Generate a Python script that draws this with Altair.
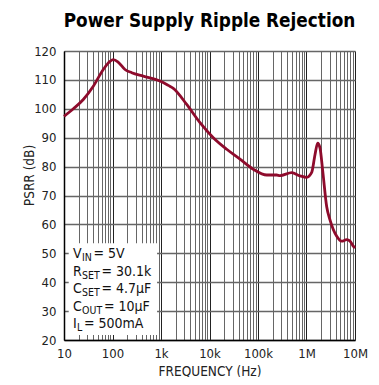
import altair as alt
import pandas as pd

# ---- data ----
title_text = ["Power Supply Ripple Rejection"]

freq_hz = [10, 15.6, 25.0, 40.2, 64.6, 88.7, 104, 132, 181, 249, 431, 952, 1413, 1795,
           3388, 6368, 11970, 22650, 42560, 80000, 151000, 242700, 284400, 495000,
           734500, 1010000, 1280000, 1500000, 1700000, 1900000, 2160000, 2610000,
           3050000, 4200000, 5320000, 6750000, 7890000, 9230000, 10000000]
psrr_db = [97.4, 100.0, 103.2, 107.8, 113.6, 116.4, 117.0, 116.1, 113.6, 112.5, 111.3,
           109.6, 108.1, 107.1, 101.5, 95.2, 90.0, 86.0, 82.6, 79.1, 77.1, 77.1, 76.9,
           77.9, 76.8, 76.3, 78.0, 84.2, 88.1, 86.4, 78.5, 66.1, 61.6, 55.9, 54.2, 54.7,
           54.2, 52.5, 51.8]

x_major = [10, 100, 1000, 10000, 100000, 1000000, 10000000]
x_major_labels = ["10", "100", "1k", "10k", "100k", "1M", "10M"]
y_ticks = [20, 30, 40, 50, 60, 70, 80, 90, 100, 110, 120]

note_main = ["V", "R", "C", "C", "I"]
note_sub = ["IN", "SET", "SET", "OUT", "L"]
note_rest = [" = 5V", " = 30.1k", " = 4.7µF", " = 10µF", " = 500mA"]
note_db = [49.8, 43.7, 37.5, 31.4, 25.6]

FONT = "'DejaVu Sans Condensed', 'Liberation Sans', sans-serif"
MAIN_SIZE = 14
SUB_SIZE = 10.5
W_PLOT, H_PLOT = 291, 289

# all log grid values (1..9 per decade)
x_grid = []
for d in x_major[:-1]:
    for m in range(1, 10):
        x_grid.append(d * m)
x_grid.append(x_major[-1])

label_expr = " : ".join(
    f"datum.value == {v} ? '{l}'" for v, l in zip(x_major, x_major_labels)
) + " : ''"
decade_test = "indexof([" + ",".join(str(v) for v in x_major) + "], datum.value) >= 0"

# DejaVu Sans advance widths (per 1000 em); condensed face is ~0.9 of these
W = {" ": 318, "=": 838, ".": 318, "k": 579, "m": 974, "µ": 636, "A": 684, "F": 575,
     "V": 684, "R": 695, "C": 698, "I": 295, "N": 748, "S": 635, "E": 632, "T": 611,
     "O": 787, "U": 732, "L": 557}
for c in "0123456789":
    W[c] = 636


def tw(s, size):
    return sum(W.get(c, 600) for c in s) * size / 1000 * 0.9


curve = pd.DataFrame({"f": freq_hz, "db": psrr_db})

note_x = 15.3
main_rows, sub_rows = [], []
for m, s, r, y in zip(note_main, note_sub, note_rest, note_db):
    w1 = tw(m, MAIN_SIZE)
    w2 = tw(s, SUB_SIZE)
    main_rows.append({"f": note_x, "db": y, "t": m, "xo": 0.0})
    sub_rows.append({"f": note_x, "db": y, "t": s, "xo": w1 + 0.3})
    main_rows.append({"f": note_x, "db": y, "t": r, "xo": w1 + w2 + 2.0})
main_df = pd.DataFrame(main_rows)
sub_df = pd.DataFrame(sub_rows)

box_df = pd.DataFrame({"f": [12.5], "f2": [830], "db": [21.7], "db2": [53.5]})
title_df = pd.DataFrame({"t": title_text})

xscale = alt.Scale(type="log", domain=[10, 10000000], nice=False)
yscale = alt.Scale(domain=[20, 120], nice=False)

x_axis = alt.Axis(
    values=x_grid, labelExpr=label_expr, grid=True, ticks=False,
    gridColor={"condition": {"test": decade_test, "value": "#222"}, "value": "#666"},
    gridWidth=1, labelFont=FONT, labelFontSize=13, labelColor="#222",
    labelPadding=7, labelFlush=False, labelOverlap=False,
    title="FREQUENCY (Hz)", titleFont=FONT, titleFontSize=13.5, titleFontWeight="normal",
    titleColor="#222", titleY=35, titleBaseline="alphabetic",
    domainColor="#000", domainWidth=1.5,
)
y_axis = alt.Axis(
    values=y_ticks, grid=True, ticks=False, gridColor="#666", gridWidth=1.5,
    labelFont=FONT, labelFontSize=13, labelColor="#222", labelPadding=8,
    labelOverlap=False, labelFlush=False,
    title="PSRR (dB)", titleFont=FONT, titleFontSize=13.5, titleFontWeight="normal",
    titleColor="#222", titleX=-31, titleY=124, titleBaseline="alphabetic",
    domainColor="#000", domainWidth=1.5,
)

X = alt.X("f:Q", scale=xscale, axis=x_axis)
Y = alt.Y("db:Q", scale=yscale, axis=y_axis)

line = alt.Chart(curve).mark_line(
    color="#8e0b2c", strokeWidth=2.8, interpolate="monotone"
).encode(x=X, y=Y)

box = alt.Chart(box_df).mark_rect(color="white").encode(x=X, x2="f2:Q", y=Y, y2="db2:Q")

main_text = alt.Chart(main_df).mark_text(
    font=FONT, fontSize=MAIN_SIZE, align="left", baseline="middle", color="#111",
    dx=alt.ExprRef("datum.xo"),
).encode(x=X, y=Y, text="t:N")
sub_text = alt.Chart(sub_df).mark_text(
    font=FONT, fontSize=SUB_SIZE, align="left", baseline="middle", color="#111",
    dx=alt.ExprRef("datum.xo"), dy=4,
).encode(x=X, y=Y, text="t:N")

title_mark = alt.Chart(title_df).mark_text(
    font=FONT, fontSize=18.8, fontWeight="bold", align="center",
    baseline="alphabetic", color="#000",
).encode(x=alt.value(W_PLOT / 2), y=alt.value(-24), text="t:N")

chart = alt.layer(line, box, main_text, sub_text, title_mark).properties(
    width=W_PLOT, height=H_PLOT,
    autosize=alt.AutoSizeParams(type="none"),
    padding={"left": 56, "top": 43, "right": 16, "bottom": 37},
).configure_view(stroke="#000", strokeWidth=1.5).configure(background="white")

chart.save("out.html", embed_options={"renderer": "svg", "actions": False})
